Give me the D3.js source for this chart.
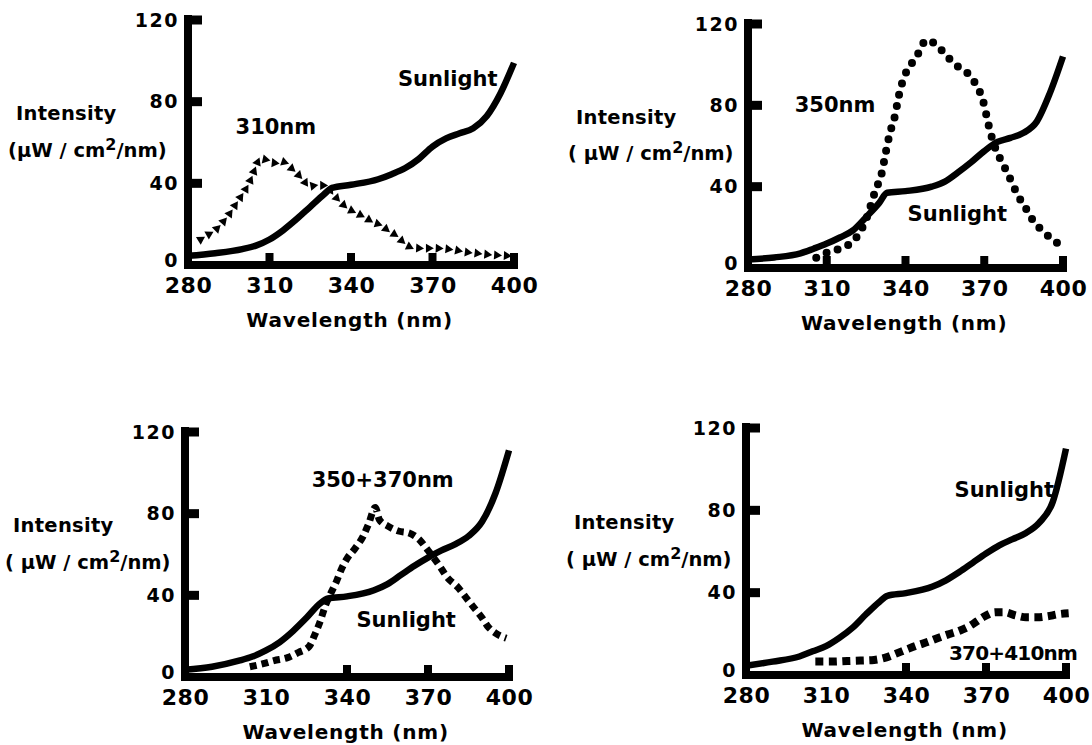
<!DOCTYPE html>
<html>
<head>
<meta charset="utf-8">
<script src="https://cdn.jsdelivr.net/npm/d3@7"></script>
<style>
  body { margin: 0; background: #fff; }
  text { font-family: "DejaVu Sans", sans-serif; font-weight: bold; fill: #000; }
</style>
</head>
<body>
<svg id="chart" width="1092" height="745"></svg>
<script>
// ---- data ----
// sunlight curve, sampled at the same wavelengths in every panel
const sunWl = [280, 290, 300, 305, 310, 315, 320, 325, 330, 333, 340, 350, 355, 360, 365, 370, 375, 380, 385, 390, 395, 400];
const sun1 = [4.5, 5.8, 7.8, 9.5, 12.5, 17, 22.5, 28.5, 34.5, 37.8, 39.3, 42, 44.5, 47.5, 52, 58, 62, 64.5, 67, 73, 84, 99];
const sun2 = [4.2, 5.2, 7.2, 9.5, 12, 15, 18.5, 25, 32, 37, 37.8, 40, 42.5, 47, 52, 57.5, 62, 64, 66.5, 72, 86, 104];
const sun3 = [3.5, 5, 8, 10, 13, 17, 22.5, 29, 36, 38.5, 39.5, 42.5, 45.5, 50, 54.5, 58.5, 62, 65, 69, 76, 90, 111];
const sun4 = [4.5, 6.5, 9, 11.5, 14, 18, 23, 29.5, 35.5, 38.5, 39.8, 43, 46, 50, 54.5, 59, 63, 66, 69, 74, 84, 110];

// 310nm lamp (triangles)
const wl310 = [284, 287, 290, 292.5, 295, 297, 299, 301, 303, 304.5, 306.5, 309, 312, 315, 317.5, 320, 322.5, 324.5, 327.5, 330.5,
  333.5, 336, 339, 342, 345.5, 348, 351, 353.5, 356.5, 359, 362, 366, 370, 374, 378, 382, 386, 390, 394, 398];
const int310 = [12, 14.5, 17, 20.5, 24.5, 28.5, 32.5, 36.5, 41.5, 46.5, 52, 51.5, 50, 50.5, 48, 45, 41.5, 38.5, 39, 39,
  34.5, 31, 27.5, 25.5, 23, 21, 19.5, 17, 14.5, 11.5, 8.7, 8.2, 8.2, 8, 7.4, 6.4, 5.8, 5.2, 4.8, 4.5];

// 350nm lamp (dots)
const wl350 = [306, 310, 315, 321, 325, 328.5, 331, 332.5, 334, 336, 337.5, 339.5, 341.5, 344, 348, 351.5, 354.5, 357, 360, 363.5,
  366.5, 368.5, 370, 371, 372.5, 374.5, 377, 380, 382.5, 386, 388.5, 392, 396, 401];
const int350 = [5, 7.5, 9.5, 14.5, 24, 38, 47, 57, 66, 75, 85, 94, 99, 103.5, 112, 110, 106, 102.5, 99, 96,
  91, 86, 80, 74, 66, 58, 51.5, 43.5, 36.5, 29, 23.5, 18.5, 14, 10];

// 350+370nm lamps (dashes)
const wl350370 = [304, 309, 313, 318, 322, 326, 328, 330, 332, 334, 336, 338, 340, 343, 346, 348, 350.5, 352, 355, 359,
  363, 367, 370, 374, 377, 381, 384, 387, 390, 392, 395, 399];
const int350370 = [5, 6.5, 8, 9.5, 12, 15, 20.5, 27, 35, 41, 46.5, 53, 58, 63, 69, 75, 83, 77, 74, 71.5,
  70.5, 67, 62, 55, 49, 44, 39, 34, 29, 25, 21.5, 19];

// 370+410nm lamps (heavy dashes)
const wl370410 = [306, 312, 318, 323, 328, 332, 336.5, 340, 344, 348, 352, 356, 360, 363.5, 366.5, 369.5, 373.5, 377, 381, 385,
  389, 393, 397, 401];
const int370410 = [6.5, 6.5, 6.8, 7, 7.3, 8.3, 10.5, 12.3, 14.3, 16, 18, 19.8, 21.5, 23.5, 26, 28.5, 30.5, 30.5, 29, 28,
  28, 28.5, 29.5, 30];

const xTickLabels = [280, 310, 340, 370, 400];
const yTickLabels = [0, 40, 80, 120];

// ---- panels: layout + which series ----
const panels = [
  { sun: sun1, wl: wl310, val: int310, mark: "triangle", xr: [188, 514], yr: [265, 20], ticks: [310, 340, 370, 400],
    unit: "(µW / cm", labels: [{ t: "310nm", w: 297.5, v: 64 }, { t: "Sunlight", w: 357.3, v: 87.7 }] },
  { sun: sun2, wl: wl350, val: int350, mark: "dot", xr: [748, 1063], yr: [268, 24], ticks: [310, 340, 370, 400],
    unit: "( µW / cm", labels: [{ t: "350nm", w: 297.8, v: 76.7 }, { t: "Sunlight", w: 340.8, v: 23 }] },
  { sun: sun3, wl: wl350370, val: int350370, mark: "dash", xr: [185, 509], yr: [677, 432], ticks: [340, 370, 400],
    unit: "( µW / cm", labels: [{ t: "350+370nm", w: 326.9, v: 93.2 }, { t: "Sunlight", w: 343.5, v: 24.6 }] },
  { sun: sun4, wl: wl370410, val: int370410, mark: "block", xr: [746, 1066], yr: [675, 428], ticks: [340, 370, 400],
    unit: "( µW / cm", labels: [{ t: "Sunlight", w: 358.2, v: 86.3 }, { t: "370+410nm", w: 356.1, v: 7.3, narrow: true }] }
];

const svg = d3.select("#chart");
svg.append("rect").attr("width", 1092).attr("height", 745).attr("fill", "#fff");

panels.forEach(function (p) {
  var x = d3.scaleLinear().domain([280, 400]).range(p.xr);
  var y = d3.scaleLinear().domain([0, 120]).range(p.yr);
  var g = svg.append("g");
  var x0 = x(280), y0 = y(0);

  var line = d3.line()
    .x(function (d) { return x(d[0]); })
    .y(function (d) { return y(d[1]); })
    .curve(d3.curveMonotoneX);

  // lamp spectrum
  var pts = p.wl.map(function (w, i) { return [w, p.val[i]]; });
  var lamp = g.append("path").attr("d", line(pts)).attr("fill", "none");
  if (p.mark === "dot") {
    lamp.attr("stroke", "#000").attr("stroke-width", 8).attr("stroke-linecap", "round").attr("stroke-dasharray", "0 11.5");
  } else if (p.mark === "dash") {
    lamp.attr("stroke", "#000").attr("stroke-width", 7).attr("stroke-dasharray", "7 5");
  } else if (p.mark === "block") {
    lamp.attr("stroke", "#000").attr("stroke-width", 8).attr("stroke-dasharray", "8 5.5");
  } else {
    // triangles laid along the curve, pointing along it
    lamp.attr("stroke", "none");
    var node = lamp.node(), L = node.getTotalLength();
    var tri = d3.symbol(d3.symbolTriangle, 36)();
    for (var s = 2; s <= L; s += 9.8) {
      var a = node.getPointAtLength(Math.max(0, s - 1.5)), b = node.getPointAtLength(Math.min(L, s + 1.5));
      var c = node.getPointAtLength(s);
      var ang = Math.atan2(b.y - a.y, b.x - a.x) * 180 / Math.PI;
      g.append("path").attr("d", tri).attr("fill", "#000")
        .attr("transform", "translate(" + c.x + "," + c.y + ") rotate(" + (ang + 90) + ")");
    }
  }

  // sunlight
  var sunPts = sunWl.map(function (w, i) { return [w, p.sun[i]]; });
  g.append("path").attr("d", line(sunPts)).attr("fill", "none")
    .attr("stroke", "#000").attr("stroke-width", 6.5);

  // heavy axes
  g.append("rect").attr("x", x0 - 4).attr("y", y(120) - 5).attr("width", 8).attr("height", y0 - y(120) + 9);
  g.append("rect").attr("x", x0 - 4).attr("y", y0 - 4).attr("width", x(400) - x0 + 8).attr("height", 8);
  [40, 80, 120].forEach(function (v) {
    g.append("rect").attr("x", x0).attr("y", y(v) - 4.5).attr("width", 14).attr("height", 9);
  });
  p.ticks.forEach(function (t) {
    g.append("rect").attr("x", x(t) - 4).attr("y", y0 - 12).attr("width", 8).attr("height", 12);
  });

  // tick labels
  var ax = g.append("g").attr("transform", "translate(0," + y0 + ")")
    .call(d3.axisBottom(x).tickValues(xTickLabels).tickSize(0).tickPadding(12).tickFormat(d3.format("d")));
  ax.select(".domain").remove();
  ax.selectAll("text").attr("font-size", 22).attr("font-family", null).style("letter-spacing", "0.5px");

  var ay = g.append("g").attr("transform", "translate(" + x0 + ",0)")
    .call(d3.axisLeft(y).tickValues(yTickLabels).tickSize(0).tickPadding(9).tickFormat(d3.format("d")));
  ay.select(".domain").remove();
  ay.selectAll("text").attr("font-size", 19).attr("font-family", null).style("letter-spacing", "1.5px")
    .attr("dy", function (d) { return d === 0 ? "0.1em" : "0.32em"; });

  // axis titles
  g.append("text").attr("x", x(339.5)).attr("y", y0 + 62).attr("text-anchor", "middle")
    .attr("font-size", 20).style("letter-spacing", "0.8px").text("Wavelength (nm)");
  g.append("text").attr("x", x0 - 172).attr("y", y(71))
    .attr("font-size", 19.5).style("letter-spacing", "0.3px").text("Intensity");
  var u = g.append("text").attr("x", x0 - 180).attr("y", y(53)).attr("font-size", 19.5);
  u.append("tspan").text(p.unit);
  u.append("tspan").attr("dy", -7).attr("font-size", 16).text("2");
  u.append("tspan").attr("dy", 7).text("/nm)");

  // curve labels
  p.labels.forEach(function (l) {
    var t = g.append("text").attr("x", x(l.w)).attr("y", y(l.v)).attr("font-size", 21).text(l.t);
    if (l.narrow) t.attr("font-size", 20).style("letter-spacing", "-0.8px");
  });
});
</script>
</body>
</html>
